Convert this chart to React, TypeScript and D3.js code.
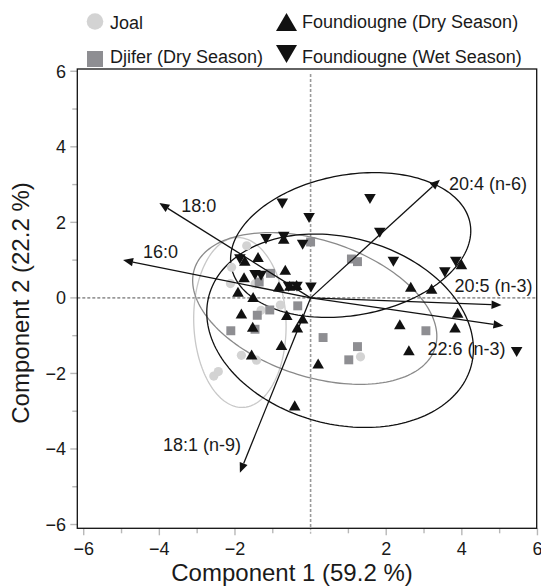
import React from 'react';
import * as d3 from 'd3';

// PCA scores per group: [component 1, component 2]
const joal: [number, number][] = [
  [-1.69, 1.38], [-2.09, 0.81], [-2.12, 0.38], [-1.47, 0.37], [-1.31, -0.33],
  [-0.8, -0.19], [-1.83, -1.52], [-1.43, -1.65], [-2.56, -2.07], [-2.44, -1.95],
  [1.32, -1.56],
];

const djiferDry: [number, number][] = [
  [0.0, 1.48], [1.08, 1.03], [1.24, 0.96], [-1.06, 0.65], [-1.36, 0.42],
  [-0.34, -0.21], [-1.08, -0.32], [-1.41, -0.46], [-2.11, -0.87], [-1.47, -0.83],
  [0.33, -1.05], [1.24, -1.29], [1.01, -1.64], [3.05, -0.87],
];

const foundiougneDry: [number, number][] = [
  [-0.71, 1.52], [-1.39, 1.04], [-1.74, 0.94], [-0.67, 0.7], [-1.76, 0.5],
  [-1.92, 0.12], [-1.52, -0.02], [-0.84, 0.26], [-0.55, 0.28], [-0.37, 0.3],
  [-1.83, -0.46], [-0.63, -0.5], [-0.21, -0.59], [-1.53, -0.81], [-0.35, -0.83],
  [-0.77, -1.29], [-1.56, -1.54], [0.2, -1.78], [-0.42, -2.89], [2.65, 0.25],
  [3.2, 0.2], [3.99, 0.85], [3.89, -0.44], [2.36, -0.74], [3.82, -0.83],
  [2.6, -1.43],
];

const foundiougneWet: [number, number][] = [
  [-0.75, 2.54], [1.57, 2.66], [-0.04, 2.16], [1.83, 1.77], [-1.18, 1.6],
  [-0.71, 1.66], [-0.21, 1.45], [-1.87, 1.07], [-1.47, 0.65], [-1.31, 0.63],
  [-0.58, 0.34], [-0.36, 0.34], [0.01, 0.32], [2.19, 1.0], [3.55, 0.72],
  [3.84, 1.0], [5.45, -1.39],
];

// Fatty-acid loadings (arrow tips)
const loadingNames = ['20:4 (n-6)', '18:0', '16:0', '20:5 (n-3)', '22:6 (n-3)', '18:1 (n-9)'];
const loadingX = [3.42, -4.0, -4.96, 5.05, 5.1, -1.87];
const loadingY = [3.13, 2.51, 1.0, -0.19, -0.74, -4.63];

// Group ellipses: centre, semi-axes, rotation of first axis (degrees)
const ellipseNames = ['Joal', 'Djifer (Dry Season)', 'Foundiougne (Dry Season)', 'Foundiougne (Wet Season)'];
const ellipseCx = [-1.87, 0.11, 0.78, 1.06];
const ellipseCy = [-0.65, -0.28, -0.87, 1.4];
const ellipseA = [2.25, 3.35, 3.59, 3.21];
const ellipseB = [1.22, 1.8, 2.47, 1.86];
const ellipseAngle = [92, -18.4, -15, 10.2];

const xTicks = d3.range(-6, 7, 1);
const yTicks = d3.range(-6, 7, 1);

// layout
const W = 541;
const H = 586;
const frame = { left: 77.3, right: 536.7, top: 69, bottom: 528.3 };
const FONT = '"Liberation Sans", Arial, Helvetica, sans-serif';
const ellipseStroke = ['#c8c8c8', '#8a8a8a', '#111', '#111'];
const labelOffset: [number, number][] = [[9, 10], [22, 9], [20, -2], [-47, -13.5], [-76, 29], [-77, -22]];

const minus = (v: number) => (v < 0 ? '\u2212' + Math.abs(v) : String(v));

export default function App() {
  const x = d3.scaleLinear().domain([-6.17, 5.98]).range([frame.left, frame.right]);
  const y = d3.scaleLinear().domain([-6.1, 6.06]).range([frame.bottom, frame.top]);

  const triUp = d3.symbol(d3.symbolTriangle, 58)()!;
  const square = d3.symbol(d3.symbolSquare, 80)()!;

  const ellipsePath = (i: number) => {
    const th = (ellipseAngle[i] * Math.PI) / 180;
    const pts: [number, number][] = d3.range(0, 360, 2).map((deg) => {
      const p = (deg * Math.PI) / 180;
      const u = ellipseA[i] * Math.cos(p);
      const v = ellipseB[i] * Math.sin(p);
      return [
        x(ellipseCx[i] + u * Math.cos(th) - v * Math.sin(th)),
        y(ellipseCy[i] + u * Math.sin(th) + v * Math.cos(th)),
      ];
    });
    return d3.line().curve(d3.curveLinearClosed)(pts)!;
  };

  const x0 = x(0);
  const y0 = y(0);

  const arrows = loadingNames.map((name, i) => {
    const tx = x(loadingX[i]);
    const ty = y(loadingY[i]);
    const ang = Math.atan2(ty - y0, tx - x0);
    const headL = 10;
    const headW = 4.2;
    const bx = tx - headL * Math.cos(ang);
    const by = ty - headL * Math.sin(ang);
    const px = -Math.sin(ang) * headW;
    const py = Math.cos(ang) * headW;
    const head = `M${tx},${ty}L${bx + px},${by + py}L${bx - px},${by - py}Z`;
    return { name, tx, ty, bx, by, head, off: labelOffset[i] };
  });

  return (
    <svg
      width={W}
      height={H}
      style={{ position: 'absolute', left: 0, top: 0, background: '#fff' }}
      fontFamily={FONT}
    >
      {/* legend */}
      <g fontSize={18} fill="#1a1a1a">
        <circle cx={95} cy={21.5} r={8.3} fill="#d3d3d3" />
        <text x={110} y={29}>Joal</text>
        <rect x={87} y={51} width={16} height={16} fill="#8e8e92" />
        <text x={110} y={63}>Djifer (Dry Season)</text>
        <path d="M286.5,13 L297,31 L276,31 Z" fill="#111" />
        <text x={302} y={28}>Foundiougne (Dry Season)</text>
        <path d="M276,45 L297,45 L286.5,63 Z" fill="#111" />
        <text x={302} y={63}>Foundiougne (Wet Season)</text>
      </g>

      {/* ticks */}
      <g stroke="#b8b8b8" strokeWidth={1.4}>
        {xTicks.map((t) => (
          <line
            key={'xt' + t}
            x1={x(t)}
            x2={x(t)}
            y1={frame.bottom}
            y2={frame.bottom + (t % 2 === 0 ? 7 : 5)}
            strokeDasharray={t === 0 ? '2,1.5' : undefined}
          />
        ))}
        {yTicks.map((t) => (
          <line
            key={'yt' + t}
            y1={y(t)}
            y2={y(t)}
            x1={frame.left}
            x2={frame.left - (t % 2 === 0 ? 7 : 5)}
          />
        ))}
      </g>
      <g fontSize={18} fill="#1a1a1a">
        {xTicks
          .filter((t) => t % 2 === 0 && t !== 0)
          .map((t) => (
            <text key={'xl' + t} x={x(t)} y={555} textAnchor="middle">
              {minus(t)}
            </text>
          ))}
        {yTicks
          .filter((t) => t % 2 === 0)
          .map((t) => (
            <text key={'yl' + t} x={66} y={y(t) + 6.5} textAnchor="end">
              {minus(t)}
            </text>
          ))}
      </g>

      {/* axis titles */}
      <text x={292} y={581} textAnchor="middle" fontSize={24} fill="#1a1a1a">
        Component 1  (59.2 %)
      </text>
      <text
        transform={`translate(29,${303}) rotate(-90)`}
        textAnchor="middle"
        fontSize={24}
        fill="#1a1a1a"
      >
        Component 2  (22.2 %)
      </text>

      {/* zero reference lines */}
      <g stroke="#9a9a9a" strokeWidth={1.6} strokeDasharray="3,2">
        <line x1={x0} x2={x0} y1={frame.top + 5} y2={frame.bottom} />
        <line x1={frame.left} x2={frame.right} y1={y0} y2={y0} />
      </g>

      {/* group ellipses */}
      <g fill="none" strokeWidth={1.3}>
        {ellipseNames.map((n, i) => (
          <path key={n} d={ellipsePath(i)} stroke={ellipseStroke[i]} />
        ))}
      </g>

      {/* scores */}
      <g fill="#d3d3d3">
        {joal.map((d, i) => (
          <circle key={'j' + i} cx={x(d[0])} cy={y(d[1])} r={4.6} />
        ))}
      </g>
      <g fill="#8e8e92">
        {djiferDry.map((d, i) => (
          <path key={'s' + i} d={square} transform={`translate(${x(d[0])},${y(d[1])})`} />
        ))}
      </g>
      <g fill="#111">
        {foundiougneDry.map((d, i) => (
          <path key={'u' + i} d={triUp} transform={`translate(${x(d[0])},${y(d[1])})`} />
        ))}
        {foundiougneWet.map((d, i) => (
          <path
            key={'w' + i}
            d={triUp}
            transform={`translate(${x(d[0])},${y(d[1])}) rotate(180)`}
          />
        ))}
      </g>

      {/* loading vectors */}
      <g>
        {arrows.map((a) => (
          <g key={a.name}>
            <line x1={x0} y1={y0} x2={a.bx} y2={a.by} stroke="#111" strokeWidth={1.3} />
            <path d={a.head} fill="#111" />
            <text x={a.tx + a.off[0]} y={a.ty + a.off[1]} fontSize={18} fill="#1a1a1a">
              {a.name}
            </text>
          </g>
        ))}
      </g>

      {/* frame */}
      <rect
        x={frame.left}
        y={frame.top}
        width={frame.right - frame.left}
        height={frame.bottom - frame.top}
        fill="none"
        stroke="#111"
        strokeWidth={1.3}
      />
    </svg>
  );
}
